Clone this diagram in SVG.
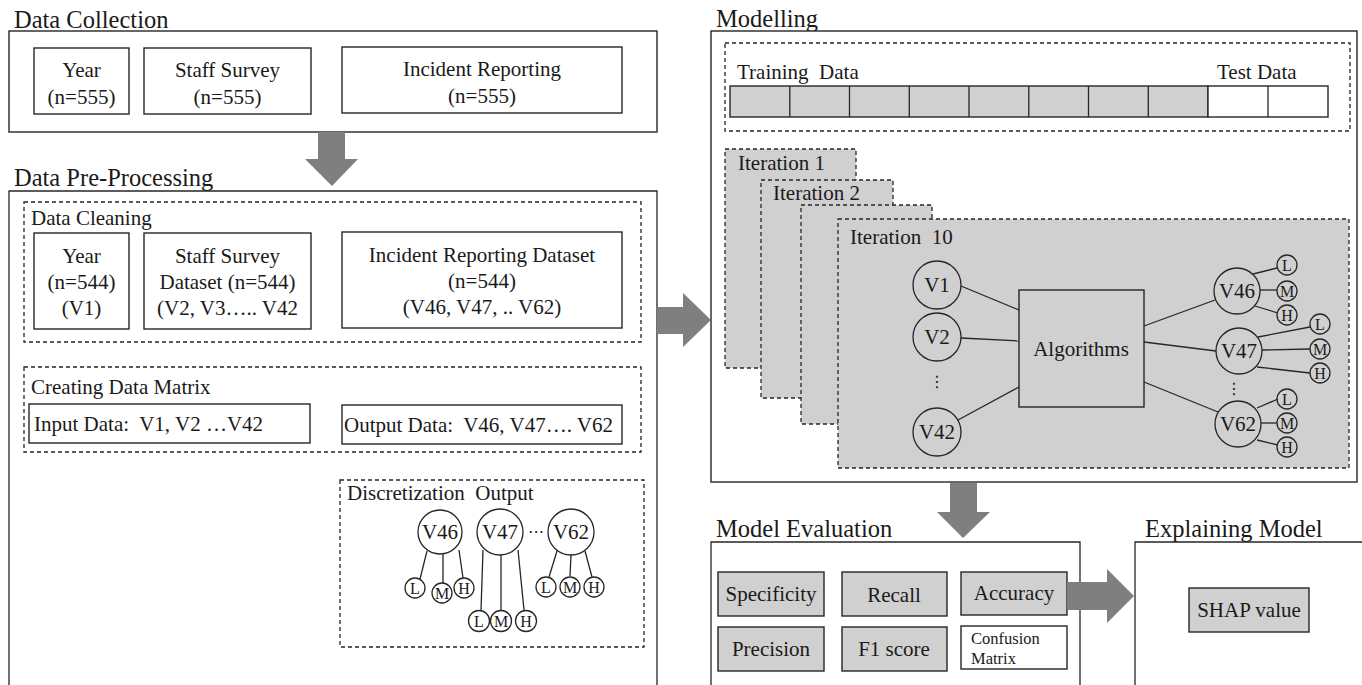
<svg xmlns="http://www.w3.org/2000/svg" width="1362" height="685" viewBox="0 0 1362 685">
  <style>
    text { font-family: "Liberation Serif", "Times New Roman", serif; fill: #1a1a1a; }
    .title { font-size: 24.5px; }
    .lbl { font-size: 21px; }
    .c { text-anchor: middle; }
    .sm { font-size: 16.5px; }
    .tiny { font-size: 16px; text-anchor: middle; }
    .box { fill: #ffffff; stroke: #262626; stroke-width: 1.4; }
    .gbox { fill: #d0d0d0; stroke: #262626; stroke-width: 1.4; }
    .dash { fill: none; stroke: #262626; stroke-width: 1.3; stroke-dasharray: 4 3; }
    .gdash { fill: #d0d0d0; stroke: #262626; stroke-width: 1.3; stroke-dasharray: 4 3; }
    .node { fill: none; stroke: #262626; stroke-width: 1.3; }
    .wnode { fill: #ffffff; stroke: #262626; stroke-width: 1.3; }
    .edge { stroke: #262626; stroke-width: 1.3; fill: none; }
    .arrow { fill: #7f7f7f; }
    .dots { font-family: "DejaVu Sans", sans-serif; font-size: 16px; text-anchor: middle; }
  </style>

  <!-- Data Collection -->
  <g id="data-collection">
    <text class="title" x="14" y="28">Data Collection</text>
    <rect class="box" x="9" y="31" width="648" height="101"/>
    <g id="dc-year">
      <rect class="box" x="34" y="48" width="95" height="66"/>
      <text class="lbl c" x="81.5" y="77">Year</text>
      <text class="lbl c" x="81.5" y="104">(n=555)</text>
    </g>
    <g id="dc-staff">
      <rect class="box" x="144" y="48" width="167" height="66"/>
      <text class="lbl c" x="227.5" y="77">Staff Survey</text>
      <text class="lbl c" x="227.5" y="104">(n=555)</text>
    </g>
    <g id="dc-incident">
      <rect class="box" x="342" y="47" width="280" height="66"/>
      <text class="lbl c" x="482" y="76">Incident Reporting</text>
      <text class="lbl c" x="482" y="103">(n=555)</text>
    </g>
  </g>

  <!-- Data Pre-Processing -->
  <g id="data-preprocessing">
    <text class="title" x="14" y="186">Data Pre-Processing</text>
    <path class="edge" d="M9 692 V191 H657 V692"/>

    <g id="data-cleaning">
      <rect class="dash" x="24" y="202" width="617" height="140"/>
      <text class="lbl" x="31" y="225">Data Cleaning</text>
      <g id="dp-year">
        <rect class="box" x="34" y="233" width="95" height="96"/>
        <text class="lbl c" x="81.5" y="263">Year</text>
        <text class="lbl c" x="81.5" y="289">(n=544)</text>
        <text class="lbl c" x="81.5" y="315">(V1)</text>
      </g>
      <g id="dp-staff">
        <rect class="box" x="144" y="233" width="167" height="96"/>
        <text class="lbl c" x="227.5" y="263">Staff Survey</text>
        <text class="lbl c" x="227.5" y="289">Dataset (n=544)</text>
        <text class="lbl c" x="227.5" y="315">(V2, V3….. V42</text>
      </g>
      <g id="dp-incident">
        <rect class="box" x="342" y="232" width="280" height="96"/>
        <text class="lbl c" x="482" y="262">Incident Reporting Dataset</text>
        <text class="lbl c" x="482" y="288">(n=544)</text>
        <text class="lbl c" x="482" y="314">(V46, V47, .. V62)</text>
      </g>
    </g>

    <g id="data-matrix">
      <rect class="dash" x="24" y="367" width="617" height="85"/>
      <text class="lbl" x="31" y="394">Creating Data Matrix</text>
      <g id="input-data">
        <rect class="box" x="29" y="404" width="281" height="39"/>
        <text class="lbl" x="34" y="431" xml:space="preserve">Input Data:  V1, V2 …V42</text>
      </g>
      <g id="output-data">
        <rect class="box" x="342" y="405" width="280" height="39"/>
        <text class="lbl" x="344" y="432" xml:space="preserve">Output Data:  V46, V47…. V62</text>
      </g>
    </g>

    <g id="discretization">
      <rect class="dash" x="340" y="480" width="304" height="167"/>
      <text class="lbl" x="347" y="500" xml:space="preserve">Discretization  Output</text>
      <g class="connectors">
        <line class="edge" x1="427" y1="551" x2="420" y2="579"/>
        <line class="edge" x1="443" y1="554" x2="443" y2="583"/>
        <line class="edge" x1="459" y1="550" x2="463" y2="578"/>
        <line class="edge" x1="483" y1="550" x2="481" y2="610"/>
        <line class="edge" x1="501" y1="555" x2="501" y2="610"/>
        <line class="edge" x1="518" y1="550" x2="524" y2="610"/>
        <line class="edge" x1="557" y1="551" x2="549" y2="577"/>
        <line class="edge" x1="571" y1="555" x2="570" y2="576"/>
        <line class="edge" x1="585" y1="551" x2="592" y2="577"/>
      </g>
      <g id="d-v46">
        <circle class="wnode" cx="440" cy="532" r="22"/>
        <text class="lbl c" x="440" y="539">V46</text>
      </g>
      <g id="d-v47">
        <circle class="wnode" cx="500" cy="532" r="23"/>
        <text class="lbl c" x="500" y="539">V47</text>
      </g>
      <text class="dots" x="536" y="537">⋯</text>
      <g id="d-v62">
        <circle class="wnode" cx="571" cy="532" r="23"/>
        <text class="lbl c" x="571" y="539">V62</text>
      </g>
      <g id="d-v46-lmh">
        <circle class="wnode" cx="415" cy="588" r="10"/><text class="tiny" x="415" y="593.5">L</text>
        <circle class="wnode" cx="442" cy="593" r="10"/><text class="tiny" x="442" y="598.5">M</text>
        <circle class="wnode" cx="464" cy="588" r="10"/><text class="tiny" x="464" y="593.5">H</text>
      </g>
      <g id="d-v47-lmh">
        <circle class="wnode" cx="479" cy="621" r="10.5"/><text class="tiny" x="479" y="626.5">L</text>
        <circle class="wnode" cx="501" cy="621" r="10.5"/><text class="tiny" x="501" y="626.5">M</text>
        <circle class="wnode" cx="526" cy="621" r="10.5"/><text class="tiny" x="526" y="626.5">H</text>
      </g>
      <g id="d-v62-lmh">
        <circle class="wnode" cx="546" cy="587" r="10"/><text class="tiny" x="546" y="592.5">L</text>
        <circle class="wnode" cx="570" cy="587" r="10"/><text class="tiny" x="570" y="592.5">M</text>
        <circle class="wnode" cx="594" cy="587" r="10"/><text class="tiny" x="594" y="592.5">H</text>
      </g>
    </g>
  </g>

  <!-- Modelling -->
  <g id="modelling">
    <text class="title" x="716" y="27">Modelling</text>
    <rect class="box" x="711" y="31" width="646" height="451"/>
    <g id="split">
      <rect class="dash" x="725" y="43" width="625" height="88"/>
      <text class="lbl" x="737" y="79" xml:space="preserve">Training  Data</text>
      <text class="lbl" x="1217" y="79">Test Data</text>
      <rect class="gbox" x="730" y="86" width="478" height="31"/>
      <rect class="box" x="1208" y="86" width="120" height="31"/>
      <path class="edge" d="M789.8 86 V117 M849.5 86 V117 M909.3 86 V117 M969 86 V117 M1028.8 86 V117 M1088.5 86 V117 M1148.3 86 V117 M1268 86 V117"/>
    </g>
    <g id="iteration-1">
      <rect class="gdash" x="725" y="149" width="131" height="219"/>
      <text class="lbl" x="738" y="170">Iteration 1</text>
    </g>
    <g id="iteration-2">
      <rect class="gdash" x="761" y="180" width="132" height="218"/>
      <text class="lbl" x="773" y="200">Iteration 2</text>
    </g>
    <g id="iteration-3">
      <rect class="gdash" x="801" y="205" width="131" height="219"/>
    </g>
    <g id="iteration-10">
      <rect class="gdash" x="838" y="219" width="511" height="249"/>
      <text class="lbl" x="850" y="244" xml:space="preserve">Iteration  10</text>

      <g class="connectors">
        <line class="edge" x1="961" y1="286" x2="1019" y2="310"/>
        <line class="edge" x1="961" y1="338" x2="1019" y2="341"/>
        <line class="edge" x1="958" y1="420" x2="1019" y2="387"/>
        <line class="edge" x1="1144" y1="326" x2="1215" y2="300"/>
        <line class="edge" x1="1144" y1="342" x2="1216" y2="351"/>
        <line class="edge" x1="1144" y1="382" x2="1218" y2="412"/>
        <line class="edge" x1="1253" y1="274" x2="1277" y2="268"/>
        <line class="edge" x1="1260" y1="290" x2="1277" y2="290"/>
        <line class="edge" x1="1255" y1="306" x2="1278" y2="313"/>
        <line class="edge" x1="1258" y1="337" x2="1310" y2="327"/>
        <line class="edge" x1="1262" y1="350" x2="1310" y2="349"/>
        <line class="edge" x1="1257" y1="367" x2="1310" y2="373"/>
        <line class="edge" x1="1257" y1="408" x2="1278" y2="399"/>
        <line class="edge" x1="1261" y1="423" x2="1277" y2="423"/>
        <line class="edge" x1="1257" y1="440" x2="1278" y2="445"/>
      </g>

      <g id="v1"><circle class="node" cx="937" cy="285" r="24"/><text class="lbl c" x="937" y="292">V1</text></g>
      <g id="v2"><circle class="node" cx="937" cy="337" r="24"/><text class="lbl c" x="937" y="344">V2</text></g>
      <text class="dots" x="937" y="387">⋮</text>
      <g id="v42"><circle class="node" cx="937" cy="432" r="24"/><text class="lbl c" x="937" y="439">V42</text></g>

      <g id="algorithms">
        <rect class="gbox" x="1019" y="290" width="125" height="117"/>
        <text class="lbl c" x="1081" y="356">Algorithms</text>
      </g>

      <g id="v46"><circle class="node" cx="1237" cy="291" r="23"/><text class="lbl c" x="1237" y="298">V46</text></g>
      <g id="v47"><circle class="node" cx="1239" cy="351" r="23"/><text class="lbl c" x="1239" y="358">V47</text></g>
      <text class="dots" x="1234" y="394">⋮</text>
      <g id="v62"><circle class="node" cx="1238" cy="424" r="23"/><text class="lbl c" x="1238" y="431">V62</text></g>

      <g id="v46-lmh">
        <circle class="node" cx="1287" cy="265" r="10"/><text class="tiny" x="1287" y="270.5">L</text>
        <circle class="node" cx="1287" cy="291" r="10"/><text class="tiny" x="1287" y="296.5">M</text>
        <circle class="node" cx="1287" cy="315" r="10"/><text class="tiny" x="1287" y="320.5">H</text>
      </g>
      <g id="v47-lmh">
        <circle class="node" cx="1320" cy="324" r="10"/><text class="tiny" x="1320" y="329.5">L</text>
        <circle class="node" cx="1320" cy="349" r="10"/><text class="tiny" x="1320" y="354.5">M</text>
        <circle class="node" cx="1320" cy="373" r="10"/><text class="tiny" x="1320" y="378.5">H</text>
      </g>
      <g id="v62-lmh">
        <circle class="node" cx="1287" cy="399" r="10"/><text class="tiny" x="1287" y="404.5">L</text>
        <circle class="node" cx="1287" cy="423" r="10"/><text class="tiny" x="1287" y="428.5">M</text>
        <circle class="node" cx="1287" cy="447" r="10"/><text class="tiny" x="1287" y="452.5">H</text>
      </g>
    </g>
  </g>

  <!-- Model Evaluation -->
  <g id="model-evaluation">
    <text class="title" x="716" y="537">Model Evaluation</text>
    <path class="edge" d="M711 692 V542 H1080 V692"/>
    <g id="specificity"><rect class="gbox" x="718" y="572" width="106" height="44"/><text class="lbl c" x="771" y="601">Specificity</text></g>
    <g id="recall"><rect class="gbox" x="842" y="572" width="105" height="44"/><text class="lbl c" x="894" y="602">Recall</text></g>
    <g id="accuracy"><rect class="gbox" x="961" y="572" width="106" height="43"/><text class="lbl c" x="1014" y="600">Accuracy</text></g>
    <g id="precision"><rect class="gbox" x="718" y="627" width="106" height="44"/><text class="lbl c" x="771" y="656">Precision</text></g>
    <g id="f1-score"><rect class="gbox" x="842" y="627" width="105" height="44"/><text class="lbl c" x="894" y="656">F1 score</text></g>
    <g id="confusion-matrix">
      <rect class="box" x="961" y="626" width="106" height="43"/>
      <text class="sm" x="971" y="644">Confusion</text>
      <text class="sm" x="971" y="664">Matrix</text>
    </g>
  </g>

  <!-- Explaining Model -->
  <g id="explaining-model">
    <text class="title" x="1145" y="537">Explaining Model</text>
    <path class="edge" d="M1135 692 V542 H1362"/>
    <g id="shap-value"><rect class="gbox" x="1189" y="588" width="120" height="44"/><text class="lbl c" x="1249" y="617">SHAP value</text></g>
  </g>

  <!-- Block arrows between stages -->
  <g id="connectors">
    <polygon class="arrow" points="318,132 345,132 345,159 358,159 332,186 305,159 318,159"/>
    <polygon class="arrow" points="657,307 683,307 683,293 711,320 683,347 683,334 657,334"/>
    <polygon class="arrow" points="950,483 977,483 977,512 990,512 963,538 937,512 950,512"/>
    <polygon class="arrow" points="1067,582 1107,582 1107,569 1134,596 1107,623 1107,610 1067,610"/>
  </g>
</svg>
